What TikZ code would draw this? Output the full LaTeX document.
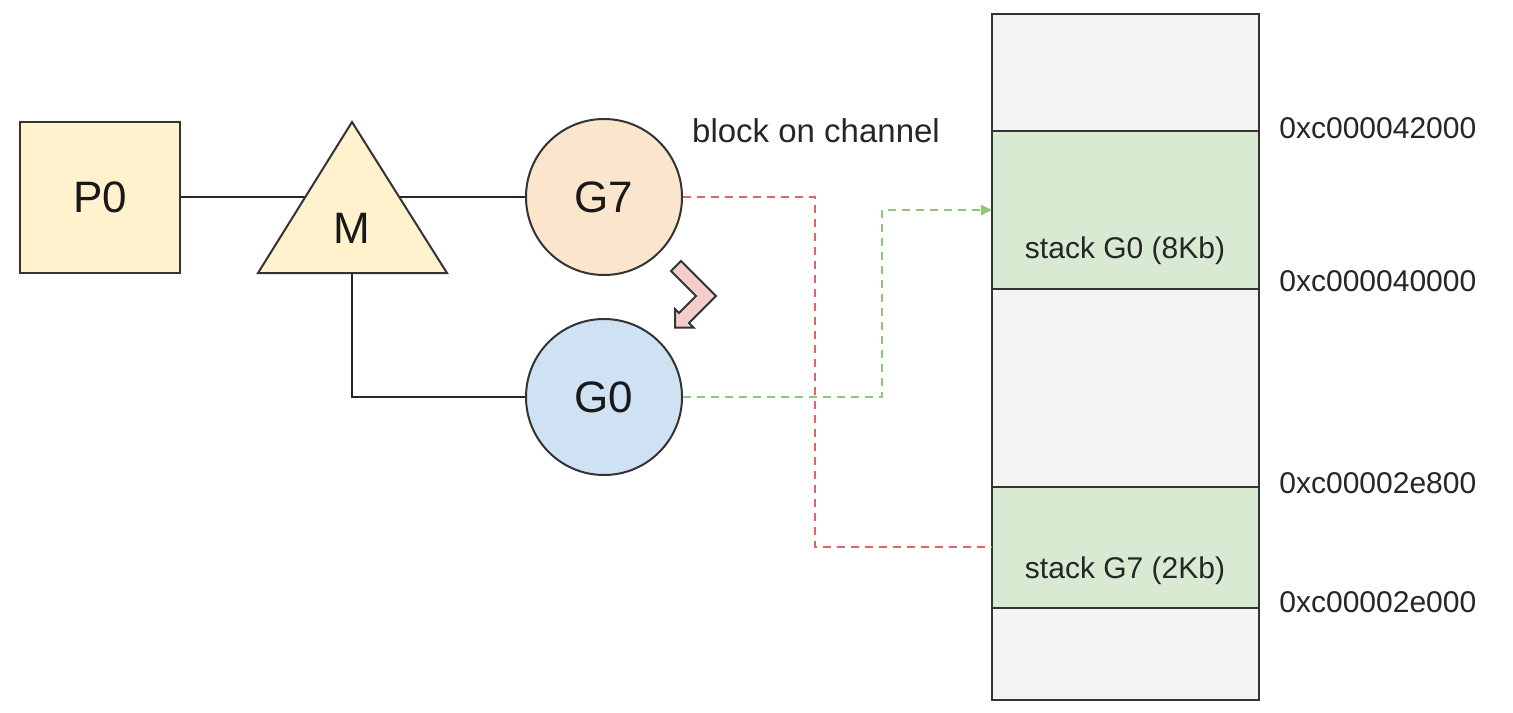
\documentclass[tikz,border=0pt]{standalone}
\usepackage{fontspec}
\setmainfont{Liberation Sans}
\usetikzlibrary{arrows.meta}
\definecolor{pyellow}{HTML}{FFF2CC}
\definecolor{porange}{HTML}{FCE5CD}
\definecolor{pblue}{HTML}{CFE2F3}
\definecolor{pgreen}{HTML}{D9EAD3}
\definecolor{pgray}{HTML}{F3F3F3}
\definecolor{ppink}{HTML}{F4CCCC}
\definecolor{dred}{HTML}{E06666}
\definecolor{dgreen}{HTML}{93C47D}

\begin{document}
\begin{tikzpicture}[x=0.5pt,y=-0.5pt,
  box/.style={draw=black!80,line width=1pt,text=black!90,font=\fontsize{22}{26}\selectfont},
  gcirc/.style={box,circle,minimum size=78pt,inner sep=0pt},
  band/.style={draw=black!80,line width=1pt,minimum width=133.5pt,inner sep=0pt,outer sep=0pt},
  small/.style={inner sep=0pt,text=black!85,font=\fontsize{15}{18}\selectfont},
  wire/.style={line width=0.75pt,black!85},
  dashline/.style={line width=0.8pt,dash pattern=on 4pt off 3pt}]
\useasboundingbox (0,0) rectangle (1513,712);

% memory column
\filldraw[fill=pgray,draw=black!80,line width=1pt] (992,14) rectangle (1259,700);
\node[band,fill=pgreen,minimum height=79pt] (stG0) at (1125.5,210) {};
\node[band,fill=pgreen,minimum height=60.5pt] (stG7) at (1125.5,547) {};
\node[small] (labG0) at (1125,251) {stack G0 (8Kb)};
\node[small] (labG7) at (1125,571) {stack G7 (2Kb)};
\foreach \y/\t in {128/0xc000042000,281/0xc000040000,483/0xc00002e800,602/0xc00002e000}
  \node[small,anchor=west] (addr\y) at (1279,\y) {\t};

% P, M, G
\node[box,fill=pyellow,minimum width=80pt,minimum height=75.5pt] (P0) at (100,197) {P0};
\node[gcirc,fill=porange] (G7) at (604,197) {G7};
\node[gcirc,fill=pblue] (G0) at (604,397) {G0};
\node[small,font=\fontsize{16.5}{20}\selectfont] (block) at (816,131) {block on channel};

\draw[wire] (P0.east) -- (G7.west);
\coordinate (Mtop) at (352,122);
\coordinate (Mbot) at (352,273);
\filldraw[fill=pyellow,draw=black!80,line width=1pt,line join=miter]
  (Mtop) -- (447,273) -- (258,273) -- cycle;
\node[box,draw=none,inner sep=0pt] (M) at (352,228) {M};
\draw[wire] (Mbot) |- (G0.west);

% switch arrow
\filldraw[fill=ppink,draw=black!80,line width=1pt,line join=miter]
  (681,261) -- (716,296) -- (689,323) -- (693.5,327.5) -- (675,327.5)
  -- (675,309) -- (679,313) -- (696,296) -- (671,271) -- cycle;

% stack links
\coordinate (rx) at (815,0);
\coordinate (gx) at (882,0);
\draw[dashline,dred] (G7.east) -| (rx |- stG7.west) -- (stG7.west);
\draw[dashline,dgreen,-{Triangle[length=5.5pt,width=5pt]}] (G0.east) -| (gx |- stG0.west) -- (stG0.west);
\end{tikzpicture}
\end{document}
